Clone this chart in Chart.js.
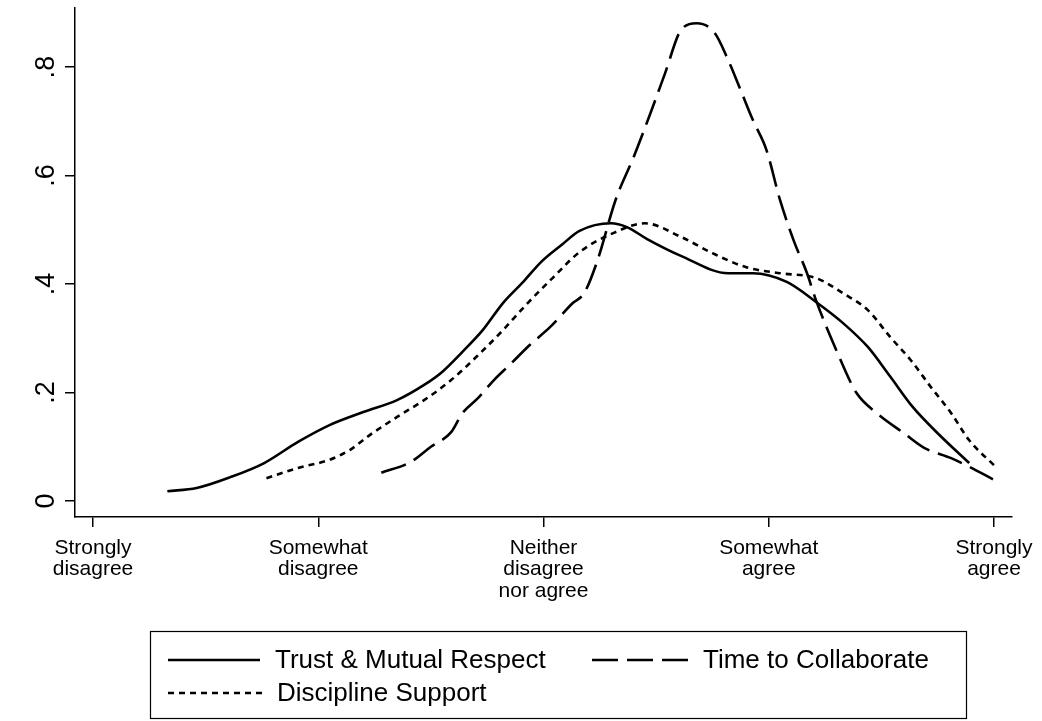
<!DOCTYPE html>
<html>
<head>
<meta charset="utf-8">
<script src="https://cdn.jsdelivr.net/npm/chart.js@4.4.1/dist/chart.umd.min.js"></script>
<style>
  html, body { margin: 0; padding: 0; background: #fff; }
  #wrap { width: 1042px; height: 721px; }
</style>
</head>
<body>
<div id="wrap"><canvas id="kde" width="1042" height="721"></canvas></div>
<script>
const xTicks = [1, 2, 3, 4, 5];
const xLabels = [
    ['Strongly', 'disagree'],
    ['Somewhat', 'disagree'],
    ['Neither', 'disagree', 'nor agree'],
    ['Somewhat', 'agree'],
    ['Strongly', 'agree'],
];
const yTicks = [0, 0.2, 0.4, 0.6, 0.8];
const yLabels = ['0', '.2', '.4', '.6', '.8'];

// density estimates, as [response, density]
const trustX = [1.33, 1.46, 1.61, 1.76, 1.91, 2.05, 2.2, 2.35, 2.47, 2.55, 2.64, 2.73, 2.82, 2.91, 2.99, 3.08, 3.16, 3.3, 3.37, 3.46, 3.61, 3.82, 3.93, 4.08, 4.21, 4.33, 4.44, 4.54, 4.64, 4.75, 4.89];
const trustY = [0.018, 0.024, 0.044, 0.07, 0.109, 0.14, 0.164, 0.186, 0.214, 0.238, 0.275, 0.315, 0.365, 0.404, 0.441, 0.472, 0.498, 0.512, 0.505, 0.483, 0.452, 0.42, 0.42, 0.404, 0.367, 0.328, 0.284, 0.229, 0.173, 0.125, 0.07];

const timeX = [2.28, 2.41, 2.5, 2.59, 2.64, 2.71, 2.78, 2.85, 2.94, 3.03, 3.13, 3.18, 3.24, 3.32, 3.4, 3.48, 3.54, 3.61, 3.68, 3.76, 3.82, 3.87, 3.93, 3.99, 4.05, 4.11, 4.17, 4.21, 4.3, 4.39, 4.48, 4.6, 4.69, 4.81, 4.89, 5.0];
const timeY = [0.052, 0.072, 0.1, 0.127, 0.162, 0.19, 0.223, 0.251, 0.288, 0.321, 0.365, 0.383, 0.444, 0.555, 0.634, 0.721, 0.789, 0.868, 0.881, 0.863, 0.813, 0.763, 0.702, 0.647, 0.555, 0.481, 0.42, 0.37, 0.278, 0.199, 0.162, 0.125, 0.098, 0.079, 0.063, 0.039];

const discX = [1.77, 1.91, 2.05, 2.14, 2.23, 2.35, 2.47, 2.59, 2.71, 2.82, 2.93, 3.04, 3.16, 3.31, 3.45, 3.61, 3.75, 3.9, 4.05, 4.21, 4.33, 4.44, 4.54, 4.63, 4.72, 4.81, 4.89, 5.0];
const discY = [0.042, 0.061, 0.076, 0.094, 0.122, 0.155, 0.186, 0.223, 0.269, 0.315, 0.365, 0.411, 0.459, 0.494, 0.512, 0.487, 0.457, 0.431, 0.42, 0.411, 0.383, 0.352, 0.302, 0.26, 0.21, 0.162, 0.112, 0.066];

const seriesNames = ['Trust & Mutual Respect', 'Time to Collaborate', 'Discipline Support'];

const FONT = '"Liberation Sans", Arial, Helvetica, sans-serif';
const toPoints = (xs, ys) => xs.map((x, i) => ({ x: x, y: ys[i] }));

const lineStyle = {
    borderColor: '#000',
    borderWidth: 2.6,
    pointRadius: 0,
    fill: false,
    tension: 0.35,
    cubicInterpolationMode: 'monotone',
};

// boxed legend under the plot, two columns like the original
const boxLegend = {
    id: 'boxLegend',
    afterDraw(chart) {
        const ctx = chart.ctx;
        const ds = chart.data.datasets;
        ctx.save();
        ctx.strokeStyle = '#000';
        ctx.lineWidth = 1.2;
        ctx.strokeRect(150.5, 631.5, 816, 87);
        const slots = [
            { x: 168, y: 660, w: 92 },
            { x: 592, y: 660, w: 96 },
            { x: 168, y: 693, w: 94 },
        ];
        ds.forEach((d, i) => {
            const s = slots[i];
            ctx.beginPath();
            ctx.setLineDash(d.borderDash || []);
            ctx.lineWidth = 2.4;
            ctx.moveTo(s.x, s.y);
            ctx.lineTo(s.x + s.w, s.y);
            ctx.stroke();
            ctx.setLineDash([]);
            ctx.fillStyle = '#000';
            ctx.font = '26px ' + FONT;
            ctx.textBaseline = 'middle';
            ctx.textAlign = 'left';
            ctx.fillText(d.label, s.x + Math.max(s.w, 92) + 15, s.y + 1);
        });
        ctx.restore();
    },
};

new Chart(document.getElementById('kde'), {
    type: 'line',
    data: {
        datasets: [
            { ...lineStyle, label: seriesNames[0], data: toPoints(trustX, trustY) },
            { ...lineStyle, label: seriesNames[1], data: toPoints(timeX, timeY), borderDash: [26, 9] },
            { ...lineStyle, label: seriesNames[2], data: toPoints(discX, discY), borderDash: [6, 5] },
        ],
    },
    options: {
        responsive: false,
        animation: false,
        layout: { padding: { top: 8, right: 30, bottom: 114, left: 0 } },
        plugins: {
            legend: { display: false },
            tooltip: { enabled: false },
        },
        scales: {
            x: {
                type: 'linear',
                min: 0.92,
                max: 5.08,
                afterBuildTicks: s => { s.ticks = xTicks.map(v => ({ value: v })); },
                afterFit: s => { s.height = 90; s.paddingLeft = 0; s.paddingRight = 0; },
                border: { display: true, color: '#000', width: 1.5 },
                grid: { display: true, drawOnChartArea: false, drawTicks: true, tickLength: 10, color: '#000', lineWidth: 1.5 },
                ticks: {
                    autoSkip: false,
                    maxRotation: 0,
                    minRotation: 0,
                    padding: 10,
                    color: '#000',
                    font: { family: FONT, size: 21, lineHeight: 1.03 },
                    callback: (v, i) => xLabels[i],
                },
            },
            y: {
                type: 'linear',
                min: -0.0295,
                max: 0.909,
                afterBuildTicks: s => { s.ticks = yTicks.map(v => ({ value: v })); },
                afterFit: s => { s.width = 75; s.paddingTop = 0; s.paddingBottom = 0; },
                border: { display: true, color: '#000', width: 1.5 },
                grid: { display: true, drawOnChartArea: false, drawTicks: true, tickLength: 10, color: '#000', lineWidth: 1.5 },
                ticks: {
                    autoSkip: false,
                    minRotation: 90,
                    maxRotation: 90,
                    crossAlign: 'center',
                    padding: 7,
                    color: '#000',
                    font: { family: FONT, size: 27 },
                    callback: (v, i) => yLabels[i],
                },
            },
        },
    },
    plugins: [boxLegend],
});
</script>
</body>
</html>
